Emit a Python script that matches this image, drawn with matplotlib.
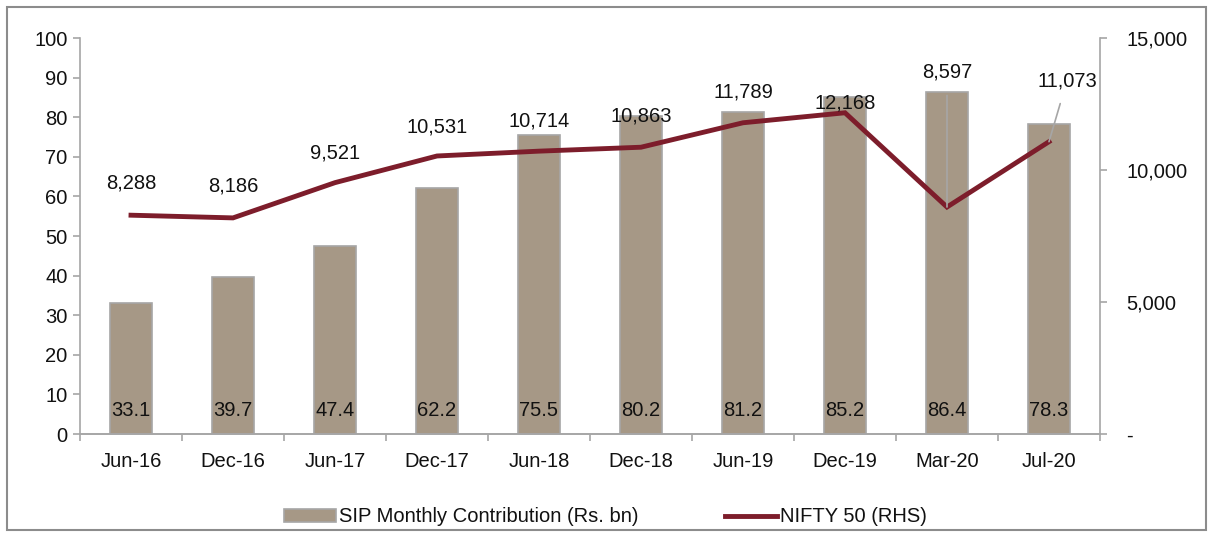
import matplotlib
matplotlib.use("Agg")
import matplotlib.pyplot as plt
from matplotlib.patches import Rectangle
from matplotlib.ticker import FuncFormatter, FixedLocator
import numpy as np

plt.rcParams['font.family'] = ['Liberation Sans', 'DejaVu Sans']

categories = ["Jun-16", "Dec-16", "Jun-17", "Dec-17", "Jun-18", "Dec-18",
              "Jun-19", "Dec-19", "Mar-20", "Jul-20"]
sip = [33.1, 39.7, 47.4, 62.2, 75.5, 80.2, 81.2, 85.2, 86.4, 78.3]
nifty = [8288, 8186, 9521, 10531, 10714, 10863, 11789, 12168, 8597, 11073]

bar_color = "#A69886"
bar_edge = "#A6A6A6"
line_color = "#7D1D2B"
spine_color = "#A6A6A6"
text_color = "#111111"

fig = plt.figure(figsize=(12.11, 5.35), dpi=100)
ax = fig.add_axes([80/1211, 1-434/535, 1020/1211, 396/535])
ax2 = ax.twinx()

x = np.arange(len(categories))
ax.bar(x, sip, width=0.41, color=bar_color, edgecolor=bar_edge, linewidth=1.2,
       label="SIP Monthly Contribution (Rs. bn)", zorder=2)
ax2.plot(x, nifty, color=line_color, linewidth=3.5, solid_joinstyle='miter',
         label="NIFTY 50 (RHS)", zorder=3)

ax.set_xlim(-0.5, len(categories) - 0.5)
ax.set_ylim(0, 100)
ax2.set_ylim(0, 15000)

fs = 14.5
ax.set_yticks(np.arange(0, 101, 10))
ax.set_xticks(x)
ax.set_xticklabels(categories)
ax.xaxis.set_minor_locator(FixedLocator(np.arange(-0.5, len(categories), 1.0)))
ax.tick_params(axis='x', which='major', length=0, pad=13, labelsize=fs, colors=text_color)
ax.tick_params(axis='x', which='minor', length=5, width=1.2, color=spine_color, direction='out')
ax.tick_params(axis='y', length=5, width=1.2, color=spine_color, labelsize=fs,
               labelcolor=text_color, pad=4)

ax2.set_yticks([0, 5000, 10000, 15000])
ax2.yaxis.set_major_formatter(FuncFormatter(lambda v, p: "-" if v == 0 else f"{int(v):,}"))
ax2.tick_params(axis='y', length=5, width=1.2, color=spine_color, labelsize=fs,
                labelcolor=text_color, pad=14)

for a in (ax, ax2):
    a.spines["top"].set_visible(False)
    for s in ("left", "right", "bottom"):
        a.spines[s].set_color(spine_color)
        a.spines[s].set_linewidth(1.2)
ax.spines["right"].set_visible(False)
ax2.spines["left"].set_visible(False)

# bar labels
for xi, v in zip(x, sip):
    ax.text(xi, 6.0, f"{v:.1f}", ha='center', va='center', fontsize=fs, color=text_color, zorder=5)

# line labels (pixel offsets)
offsets = [(0, 32), (0, 32), (0, 30), (0, 29), (0, 30), (0, 31), (0, 31), (0, 10), (0, 135), (18, 61)]
leaders = [False] * 8 + [True, True]
for xi, v, off, lead in zip(x, nifty, offsets, leaders):
    if lead:
        ax2.annotate(f"{v:,}", xy=(xi, v), xytext=off, textcoords='offset pixels',
                     ha='center', va='center', fontsize=fs, color=text_color,
                     arrowprops=dict(arrowstyle='-', color='#A6A6A6', lw=1.2,
                                     shrinkA=8, shrinkB=0), zorder=6)
    else:
        ax2.annotate(f"{v:,}", xy=(xi, v), xytext=off, textcoords='offset pixels',
                     ha='center', va='center', fontsize=fs, color=text_color, zorder=6)

# legend
h1, l1 = ax.get_legend_handles_labels()
h2, l2 = ax2.get_legend_handles_labels()
leg = fig.legend(h1 + h2, l1 + l2, loc='center', bbox_to_anchor=(0.5, 1-517/535),
                 ncol=2, frameon=False, fontsize=fs, handlelength=2.6, handleheight=0.6,
                 handletextpad=0.15, columnspacing=4.3)
for t in leg.get_texts():
    t.set_color(text_color)

# outer border
fig.patches.append(Rectangle((7/1211, 5/535), 1199/1211, 523/535, transform=fig.transFigure,
                             fill=False, edgecolor='#8C8C8C', linewidth=1.5))

fig.savefig("out.png", dpi=100)
